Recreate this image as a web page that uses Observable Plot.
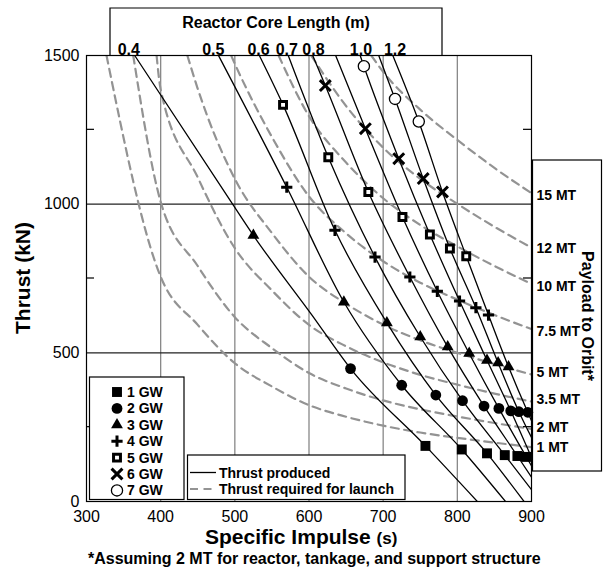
<!DOCTYPE html>
<html><head><meta charset="utf-8">
<script src="https://cdn.jsdelivr.net/npm/d3@7"></script>
<script src="https://cdn.jsdelivr.net/npm/@observablehq/plot@0.6"></script>
<style>html,body{margin:0;padding:0;background:#fff}svg{display:block}</style>
</head><body><div id="chart"></div>
<script>
// ---- Data ----
const coreLengths = ["0.4","0.5","0.6","0.7","0.8","0.9","1.0","1.1","1.2"];
const line04 = [[365,1500],[497,1000],[525,895],[604,627],[656,447],[757,187],[827,0]];
const line05 = [[478,1500],[570,1057],[647,671],[725,391],[806,175],[865,0]];
const line06 = [[533,1500],[565,1334],[635,912],[705,601],[771,358],[840,162],[890,0]];
const line07 = [[572,1500],[626,1158],[689,822],[750,554],[807,339],[864,156],[900,40]];
const line08 = [[605,1500],[622,1399],[680,1041],[736,755],[787,520],[836,321],[881,153],[900,82]];
const line09 = [[636,1500],[676,1254],[726,957],[773,707],[816,498],[856,313],[893,150],[900,120]];
const line10 = [[669,1500],[674,1464],[721,1153],[763,898],[803,674],[840,475],[872,305],[900,148]];
const line11 = [[694,1500],[716,1354],[754,1086],[790,851],[825,652],[855,466],[883,302],[900,215]];
const line12 = [[713,1500],[748,1278],[780,1041],[812,825],[842,627],[869,453],[895,300],[900,272]];

const coreLabels = ["0.4","0.5","0.6","0.7","0.8","1.0","1.2"];
const coreLabelIsp = [357,471,532,570,606,670,716];

const payloads = ["1 MT","2 MT","3.5 MT","5 MT","7.5 MT","10 MT","12 MT","15 MT"];
const req1  = [[327,1500],[400,756],[450,594],[500,465],[550,387],[600,324],[650,285],[700,255],[750,232],[800,214],[850,198],[900,183]];
const req2  = [[363,1500],[400,1008],[450,792],[500,620],[550,516],[600,432],[650,380],[700,340],[750,310],[800,286],[850,264],[900,244]];
const req35 = [[394.5,1500],[400,1386],[450,1090],[500,852],[550,710],[600,594],[650,522],[700,468],[750,426],[800,393],[850,363],[900,336]];
const req5  = [[436,1500],[450,1388],[500,1085],[550,903],[600,756],[650,665],[700,595],[750,542],[800,500],[850,462],[900,427]];
const req75 = [[495,1500],[500,1472],[550,1226],[600,1026],[650,902],[700,808],[750,736],[800,679],[850,627],[900,580]];
const req10 = [[559,1500],[600,1296],[650,1140],[700,1020],[750,930],[800,858],[850,792],[900,732]];
const req12 = [[603,1500],[650,1330],[700,1190],[750,1085],[800,1001],[850,924],[900,854]];
const req15 = [[684,1500],[700,1445],[750,1318],[800,1216],[850,1122],[900,1037]];

const payloadLabels = ["15 MT","12 MT","10 MT","7.5 MT","5 MT","3.5 MT","2 MT","1 MT"];
const payloadLabelT = [1030,852,724,573,433,343,248,181];

const gwLabels = ["1 GW","2 GW","3 GW","4 GW","5 GW","6 GW","7 GW"];
const gw1 = [[757,187],[806,175],[840,162],[864,156],[881,153],[893,150]];
const gw2 = [[656,447],[725,391],[771,358],[807,339],[836,321],[856,313],[872,305],[883,302],[895,300]];
const gw3 = [[525,895],[647,671],[705,601],[750,554],[787,520],[816,498],[840,475],[855,466],[869,453]];
const gw4 = [[570,1057],[635,912],[689,822],[736,755],[773,707],[803,674],[825,652],[842,627]];
const gw5 = [[565,1334],[626,1158],[680,1041],[726,957],[763,898],[790,851],[812,825]];
const gw6 = [[622,1399],[676,1254],[721,1153],[754,1086],[780,1041]];
const gw7 = [[674,1464],[716,1354],[748,1278]];

const xTicks = [300,400,500,600,700,800,900];
const yTicks = [0,500,1000,1500];
const yMinor = [250,750,1250];
const xGrid = [400,500,600,700,800];
const yGrid = [500,1000];

// ---- Tables ----
const coreSets = [line04,line05,line06,line07,line08,line09,line10,line11,line12];
const coreTable = coreLengths.flatMap((L,i)=>coreSets[i].map(([isp,t])=>({L,isp,t})));
const reqSets = [req1,req2,req35,req5,req75,req10,req12,req15];
const reqTable = payloads.flatMap((m,i)=>reqSets[i].map(([isp,t])=>({m,isp,t})));
const gwSets = [gw1,gw2,gw3,gw4,gw5,gw6,gw7];
const gwTables = gwSets.map((s,i)=>s.map(([isp,t])=>({gw:gwLabels[i],isp,t})));

const styles = [
  {symbol:"square",  r:5.6, fill:"#000", stroke:"none", sw:0},
  {symbol:"circle",  r:5.4, fill:"#000", stroke:"none", sw:0},
  {symbol:"triangle",r:4.4, fill:"#000", stroke:"none", sw:0},
  {symbol:"plus",    r:3.7, fill:"none", stroke:"#000", sw:3},
  {symbol:"square",  r:3.9, fill:"#fff", stroke:"#000", sw:3},
  {symbol:"times",   r:5.0, fill:"none", stroke:"#000", sw:3},
  {symbol:"circle",  r:5.6, fill:"#fff", stroke:"#000", sw:1.3}
];

const FONT = "'Liberation Sans', Arial, Helvetica, sans-serif";
const W = 603, H = 571;

const plot = Plot.plot({
  width: W, height: H,
  marginLeft: 86, marginRight: 72, marginTop: 55, marginBottom: 70,
  style: {fontFamily: FONT, fontSize: "16px", color: "#000", background: "#fff", overflow: "visible"},
  x: {domain: [300,900], ticks: xTicks, tickSize: 0, tickPadding: 9, label: null, tickFormat: d3.format("d")},
  y: {domain: [0,1500], ticks: yTicks, tickSize: 0, tickPadding: 7, label: null, tickFormat: d3.format("d")},
  marks: [
    Plot.ruleX(xGrid, {stroke: "#888", strokeWidth: 1.3}),
    Plot.ruleY(yGrid, {stroke: "#222", strokeWidth: 1.2}),
    Plot.line(reqTable, {x: "isp", y: "t", z: "m", stroke: "#939393", strokeWidth: 2.2, strokeDasharray: "8,5.5", curve: "monotone-x", clip: true}),
    Plot.line(coreTable, {x: "isp", y: "t", z: "L", stroke: "#000", strokeWidth: 1.3, curve: "monotone-x", clip: true}),
    ...gwTables.map((tab,i)=>Plot.dot(tab, {x: "isp", y: "t", symbol: styles[i].symbol, r: styles[i].r, fill: styles[i].fill, stroke: styles[i].stroke, strokeWidth: styles[i].sw})),
    Plot.text(coreLabels, {x: (d,i)=>coreLabelIsp[i], y: ()=>1500, text: d=>d, lineAnchor: "bottom", dy: -1, fontWeight: "bold", fontSize: 16}),
    Plot.text(payloadLabels, {x: ()=>900, y: (d,i)=>payloadLabelT[i], text: d=>d, textAnchor: "start", dx: 5, fontWeight: "bold", fontSize: 14}),
    Plot.frame({stroke: "#000", strokeWidth: 1.2})
  ]
});
document.getElementById("chart").appendChild(plot);

// ---- Annotations: boxes, titles, legends ----
const svg = d3.select(plot);
const X = plot.scale("x"), Y = plot.scale("y");
const x0 = X.apply(300), x1 = X.apply(900), yTop = Y.apply(1500), yBot = Y.apply(0);
const g = svg.append("g").attr("font-family", FONT).attr("fill", "#000").attr("text-anchor", "start");

// minor ticks on y (both sides, inward)
yMinor.forEach(v => {
  const yy = Y.apply(v);
  g.append("line").attr("x1", x0).attr("x2", x0 + 8).attr("y1", yy).attr("y2", yy).attr("stroke", "#000").attr("stroke-width", 1.2);
  g.append("line").attr("x1", x1).attr("x2", x1 - 8).attr("y1", yy).attr("y2", yy).attr("stroke", "#000").attr("stroke-width", 1.2);
});

// top box: Reactor Core Length
g.append("path").attr("d", `M110,${yTop}V8H442V${yTop}`).attr("fill", "none").attr("stroke", "#000").attr("stroke-width", 1.2);
g.append("text").attr("x", 276).attr("y", 28).attr("text-anchor", "middle").attr("font-weight", "bold").attr("font-size", 16).text("Reactor Core Length (m)");

// right box: Payload to Orbit*
g.append("rect").attr("x", 532.5).attr("y", 160).attr("width", 69).attr("height", 311).attr("fill", "none").attr("stroke", "#000").attr("stroke-width", 1.2);
g.append("text").attr("transform", "translate(582,316) rotate(90)").attr("text-anchor", "middle").attr("font-weight", "bold").attr("font-size", 16).text("Payload to Orbit*");

// axis titles
g.append("text").attr("transform", `translate(30,${(yTop + yBot) / 2}) rotate(-90)`).attr("text-anchor", "middle").attr("font-weight", "bold").attr("font-size", 21).text("Thrust (kN)");
const xt = g.append("text").attr("x", 205).attr("y", 544).attr("text-anchor", "start").attr("font-weight", "bold");
xt.append("tspan").attr("font-size", 21).text("Specific Impulse ");
xt.append("tspan").attr("font-size", 17).text("(s)");
g.append("text").attr("x", 88).attr("y", 564).attr("text-anchor", "start").attr("font-weight", "bold").attr("font-size", 16).text("*Assuming 2 MT for reactor, tankage, and support structure");

// GW legend box
g.append("rect").attr("x", 89.5).attr("y", 377).attr("width", 94.5).attr("height", yBot - 377 - 1.5).attr("fill", "#fff").attr("stroke", "#000").attr("stroke-width", 1.2);
const symMap = {square: d3.symbolSquare, circle: d3.symbolCircle, triangle: d3.symbolTriangle, plus: d3.symbolPlus, times: d3.symbolTimes};
gwLabels.forEach((lab, i) => {
  const yy = 392 + i * 16.4;
  const s = styles[i];
  g.append("path").attr("d", d3.symbol(symMap[s.symbol], Math.PI * s.r * s.r)()).attr("transform", `translate(117,${yy})`)
    .attr("fill", s.fill).attr("stroke", s.stroke).attr("stroke-width", s.sw);
  g.append("text").attr("x", 127).attr("y", yy + 5).attr("text-anchor", "start").attr("font-weight", "bold").attr("font-size", 14).text(lab);
});

// line legend box
g.append("rect").attr("x", 187.5).attr("y", 455).attr("width", 217.5).attr("height", yBot - 455 - 1.5).attr("fill", "#fff").attr("stroke", "#000").attr("stroke-width", 1.2);
g.append("line").attr("x1", 190).attr("x2", 216).attr("y1", 472.5).attr("y2", 472.5).attr("stroke", "#000").attr("stroke-width", 1.3);
g.append("text").attr("x", 219).attr("y", 477.5).attr("text-anchor", "start").attr("font-weight", "bold").attr("font-size", 14).text("Thrust produced");
g.append("line").attr("x1", 190).attr("x2", 216).attr("y1", 489).attr("y2", 489).attr("stroke", "#939393").attr("stroke-width", 2.2).attr("stroke-dasharray", "8,5.5");
g.append("text").attr("x", 219).attr("y", 494).attr("text-anchor", "start").attr("font-weight", "bold").attr("font-size", 14).text("Thrust required for launch");
</script></body></html>
